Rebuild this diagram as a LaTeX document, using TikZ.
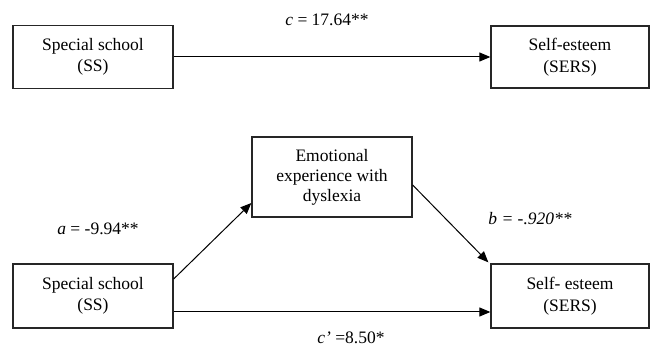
\documentclass[tikz,border=0pt]{standalone}
\usepackage{fontspec}
\setmainfont{Liberation Serif}
\usetikzlibrary{arrows.meta,calc}
\begin{document}
\begin{tikzpicture}[x=1pt,y=-1pt,
  box/.style={draw=black!85,line width=1.3pt,align=center,inner sep=0pt,
    font=\fontsize{17.5}{21.5}\selectfont},
  conn/.style={line width=1pt,-{Triangle[length=11pt,width=9pt]}},
  lab/.style={font=\fontsize{17.5}{21.5}\selectfont,inner sep=0pt}]
\useasboundingbox (0,0) rectangle (653,352);
\node[box,minimum width=160,minimum height=63] (ss1) at (93,57) {Special school\\(SS)};
\node[box,minimum width=158,minimum height=62] (se1) at (570,57) {Self-esteem\\(SERS)};
\node[box,minimum width=160,minimum height=64] (ss2) at (93,296) {Special school\\(SS)};
\node[box,minimum width=160,minimum height=80,font=\fontsize{17.5}{20}\selectfont] (em) at (332,177) {Emotional\\experience with\\dyslexia};
\node[box,minimum width=158,minimum height=64] (se2) at (570,296) {Self- esteem\\(SERS)};
\draw[conn] (ss1.east) -- (se1.west);
\draw[conn] ($(ss2.east)+(0,-17)$) -- ($(em.west)+(0,26)$);
\draw[conn] ($(em.east)+(0,8)$) -- ($(se2.north west)+(-2,-1)$);
\draw[conn] ($(ss2.east)+(0,16)$) -- ($(se2.west)+(0,16)$);
\node[lab] (lc) at (327,20) {\textit{c} = 17.64**};
\node[lab] (la) at (98,229) {\textit{a} = -9.94**};
\node[lab] (lb) at (530,219) {\textit{b = -.920**}};
\node[lab] (lcp) at (351,338) {\textit{c'} =8.50*};
\end{tikzpicture}
\end{document}
